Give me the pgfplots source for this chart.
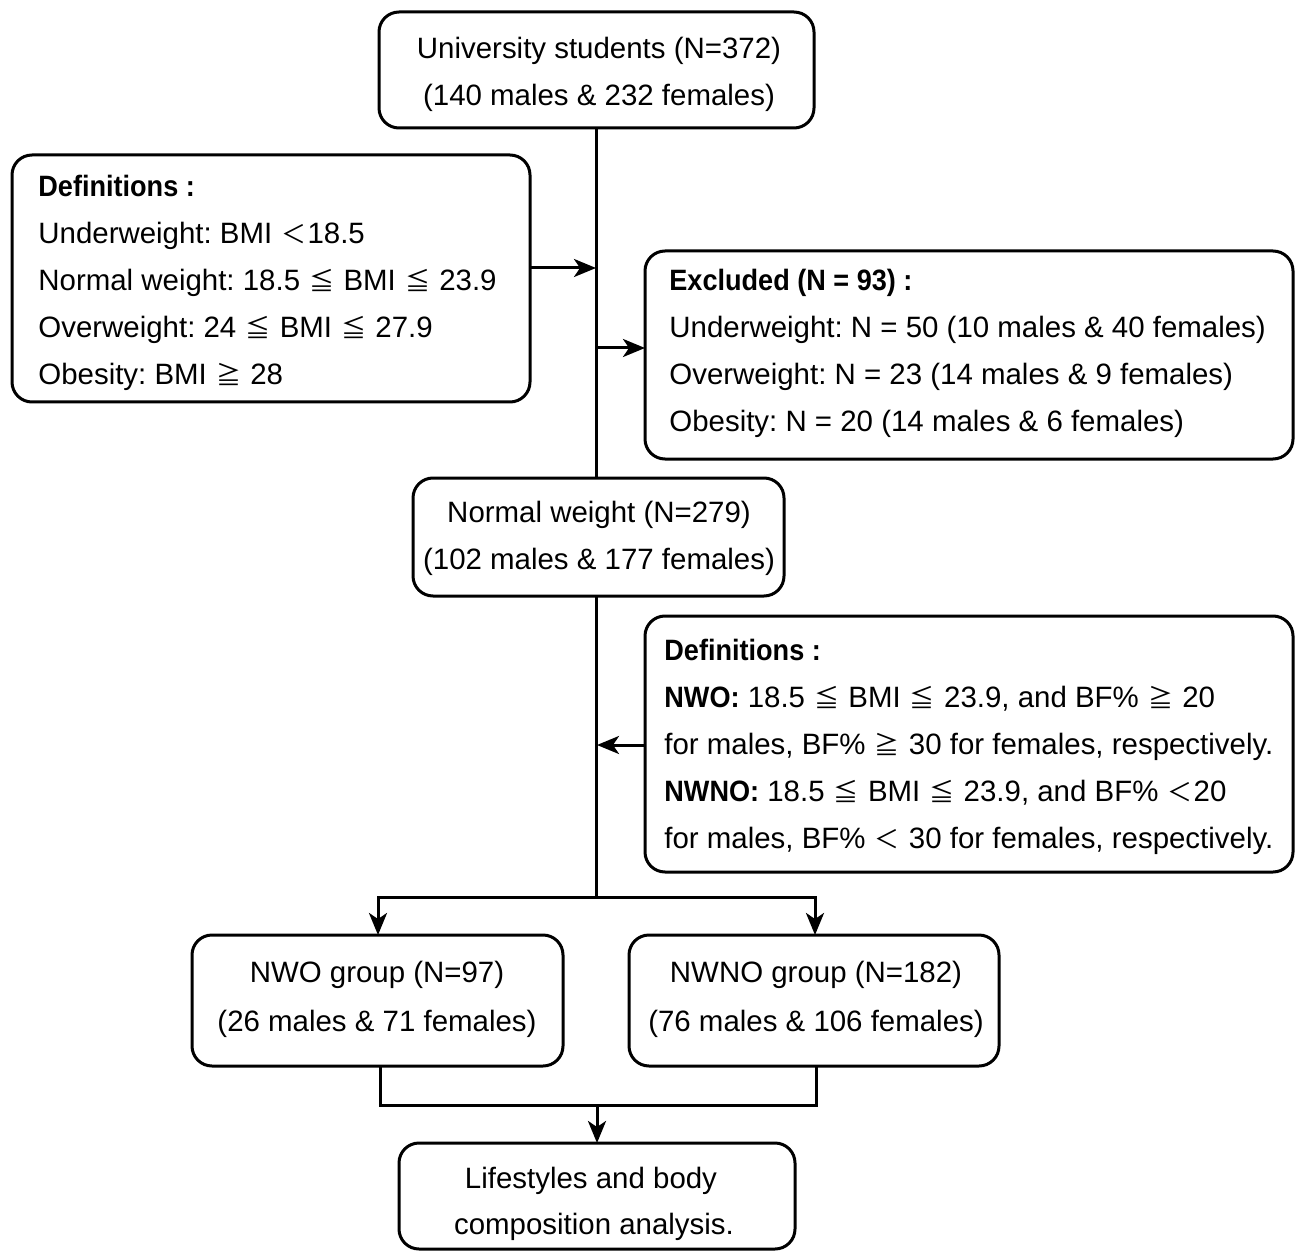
\documentclass[border=0pt]{standalone}
\usepackage{pgfplots}
\pgfplotsset{compat=1.18}
\usetikzlibrary{arrows.meta}
\usepackage{fontspec}
\setmainfont{Liberation Sans}
\newfontfamily\cjk{Noto Sans CJK SC}
\newcommand{\sym}[1]{\kern0.5pt{\cjk\fontsize{12.5}{14}\selectfont #1}\kern0.5pt}
\newcommand{\sle}{\sym{≦}}
\newcommand{\sge}{\sym{≧}}
\newcommand{\slt}{\sym{＜}}
\newcommand{\nb}[1]{\scalebox{0.92}[1]{\textbf{#1}}}
\frenchspacing
\begin{document}
\begin{tikzpicture}
\begin{axis}[
    width=647.5pt, height=625.5pt, scale only axis,
    xmin=0, xmax=1295, ymin=0, ymax=1251,
    y dir=reverse, hide axis, clip=false,
]
\coordinate (ll) at (0,1251);
\coordinate (ur) at (1295,0);
\tikzset{
    box/.style={draw, line width=1.5pt, rounded corners=10pt},
    ln/.style={line width=1.5pt},
    arr/.style={line width=1.5pt, -{Stealth[length=11pt, width=9pt, inset=3pt]}},
    txt/.style={inner sep=0pt, font=\fontsize{14.72}{17}\selectfont, text=black, yshift=-2.5pt},
}
% boxes
\draw[box] (379,12) rectangle (814,128);
\draw[box] (12,155) rectangle (530,402);
\draw[box] (645,251) rectangle (1293,459);
\draw[box] (413,478) rectangle (784,596);
\draw[box] (645,616) rectangle (1293,872);
\draw[box] (192,935) rectangle (563,1066);
\draw[box] (629,935) rectangle (999,1066);
\draw[box] (399,1143) rectangle (795,1249);
% connectors
\draw[ln] (596,128) -- (596,478);
\draw[arr] (530,268) -- (596,268);
\draw[arr] (596,348) -- (645,348);
\draw[ln] (596,596) -- (596,897);
\draw[arr] (645,745) -- (597,745);
\draw[ln] (378,897) -- (815,897);
\draw[arr] (378,896) -- (378,935);
\draw[arr] (815,896) -- (815,935);
\draw[ln] (380,1066) -- (380,1105) -- (816,1105) -- (816,1066);
\draw[arr] (597,1105) -- (597,1143);
% texts
\node[txt, anchor=mid] at (599,48) {University students (N=372)};
\node[txt, anchor=mid] at (599,95) {(140 males \& 232 females)};
\node[txt, anchor=mid west] at (38,186) {\nb{Definitions :}};
\node[txt, anchor=mid west] at (38,233) {Underweight: BMI \slt18.5};
\node[txt, anchor=mid west] at (38,280) {Normal weight: 18.5 \sle{} BMI \sle{} 23.9};
\node[txt, anchor=mid west] at (38,327) {Overweight: 24 \sle{} BMI \sle{} 27.9};
\node[txt, anchor=mid west] at (38,374) {Obesity: BMI \sge{} 28};
\node[txt, anchor=mid west] at (669,280) {\nb{Excluded (N = 93) :}};
\node[txt, anchor=mid west] at (669,327) {Underweight: N = 50 (10 males \& 40 females)};
\node[txt, anchor=mid west] at (669,374) {Overweight: N = 23 (14 males \& 9 females)};
\node[txt, anchor=mid west] at (669,421) {Obesity: N = 20 (14 males \& 6 females)};
\node[txt, anchor=mid] at (599,512) {Normal weight (N=279)};
\node[txt, anchor=mid] at (599,559) {(102 males \& 177 females)};
\node[txt, anchor=mid west] at (664,650) {\nb{Definitions :}};
\node[txt, anchor=mid west] at (664,697) {\nb{NWO:} 18.5 \sle{} BMI \sle{} 23.9, and BF\% \sge{} 20};
\node[txt, anchor=mid west] at (664,744) {for males, BF\% \sge{} 30 for females, respectively.};
\node[txt, anchor=mid west] at (664,791) {\nb{NWNO:} 18.5 \sle{} BMI \sle{} 23.9, and BF\% \slt20};
\node[txt, anchor=mid west] at (664,838) {for males, BF\% \slt{} 30 for females, respectively.};
\node[txt, anchor=mid] at (377,972) {NWO group (N=97)};
\node[txt, anchor=mid] at (377,1021) {(26 males \& 71 females)};
\node[txt, anchor=mid] at (816,972) {NWNO group (N=182)};
\node[txt, anchor=mid] at (816,1021) {(76 males \& 106 females)};
\node[txt, anchor=mid] at (591,1178) {Lifestyles and body};
\node[txt, anchor=mid] at (594,1224) {composition analysis.};
\end{axis}
\pgfresetboundingbox
\path (ll) rectangle (ur);
\end{tikzpicture}
\end{document}
